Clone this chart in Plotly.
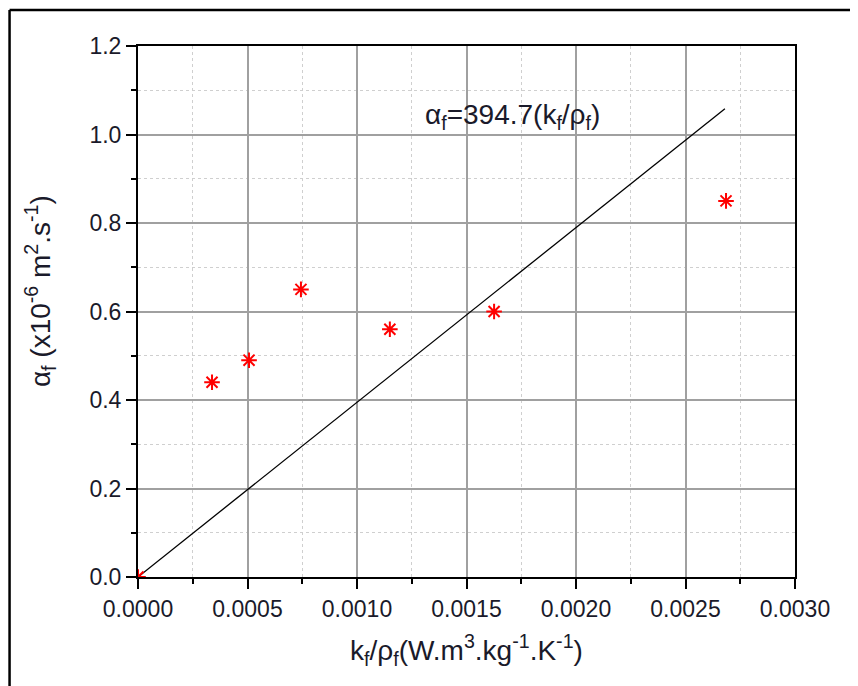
import plotly.graph_objects as go

# data
x_vals = [0.0, 0.000338, 0.000507, 0.000744, 0.00115, 0.001626, 0.002685]
y_vals = [0.0, 0.44, 0.49, 0.65, 0.56, 0.60, 0.85]
fit_x = [0.0, 0.00268]
fit_y = [0.0, 1.058]
x_ticks = [0.0, 0.0005, 0.0010, 0.0015, 0.0020, 0.0025, 0.0030]
x_tick_labels = ["0.0000", "0.0005", "0.0010", "0.0015", "0.0020", "0.0025", "0.0030"]
y_ticks = [0.0, 0.2, 0.4, 0.6, 0.8, 1.0, 1.2]
y_tick_labels = ["0.0", "0.2", "0.4", "0.6", "0.8", "1.0", "1.2"]
eq_text = "α<sub>f</sub>=394.7(k<sub>f</sub>/ρ<sub>f</sub>)"
eq_pos = (0.00171, 1.04)

FONT = "Liberation Sans, Arial, sans-serif"
TXT = "#1a1a2a"

fig = go.Figure()
fig.add_trace(go.Scatter(x=fit_x, y=fit_y, mode="lines",
                         line=dict(color="black", width=1.3), showlegend=False))
fig.add_trace(go.Scatter(x=x_vals, y=y_vals, mode="markers",
                         marker=dict(symbol="asterisk-open", size=13, color="red",
                                     line=dict(color="red", width=2)),
                         showlegend=False))

axis_common = dict(
    showline=True, linecolor="black", linewidth=2, mirror=True,
    ticks="outside", ticklen=10, tickwidth=1.5, tickcolor="black",
    showgrid=True, gridcolor="#a0a0a0", gridwidth=1.5,
    zeroline=False,
    tickfont=dict(family=FONT, size=23, color=TXT),
)

fig.update_xaxes(range=[0, 0.003], tickvals=x_ticks, ticktext=x_tick_labels,
                 minor=dict(dtick=0.00025, ticks="outside", ticklen=5, tickcolor="black",
                            showgrid=True, gridcolor="#cfcfcf", griddash="dot", gridwidth=1),
                 **axis_common)
fig.update_yaxes(range=[0, 1.2], tickvals=y_ticks, ticktext=y_tick_labels,
                 minor=dict(dtick=0.1, ticks="outside", ticklen=5, tickcolor="black",
                            showgrid=True, gridcolor="#cfcfcf", griddash="dot", gridwidth=1),
                 **axis_common)

fig.add_annotation(x=eq_pos[0], y=eq_pos[1], text=eq_text, showarrow=False,
                   font=dict(family=FONT, size=28, color=TXT))

# axis titles
fig.add_annotation(xref="paper", yref="paper", x=0.5, y=-0.1375,
                   text="k<sub>f</sub>/ρ<sub>f</sub>(W.m<sup>3</sup>.kg<sup>-1</sup>.K<sup>-1</sup>)",
                   showarrow=False, font=dict(family=FONT, size=28, color=TXT),
                   yanchor="middle")
fig.add_annotation(xref="paper", yref="paper", x=-0.149, y=0.5386,
                   text="α<sub>f</sub> (x10<sup>-6</sup> m<sup>2</sup>.s<sup>-1</sup>)",
                   textangle=-90, showarrow=False,
                   font=dict(family=FONT, size=28, color=TXT),
                   xanchor="center", yanchor="middle")

# outer frame (left and top edges)
fig.add_shape(type="line", xref="paper", yref="paper", x0=-0.1955, x1=-0.1955,
              y0=1.068, y1=-0.22, line=dict(color="black", width=2.5))
fig.add_shape(type="line", xref="paper", yref="paper", x0=-0.1955, x1=1.11,
              y0=1.068, y1=1.068, line=dict(color="black", width=2.5))

fig.update_layout(
    width=850, height=678,
    margin=dict(l=130, r=63, t=38, b=109),
    paper_bgcolor="white", plot_bgcolor="white",
    font=dict(family=FONT, size=23, color=TXT),
)

fig.write_html("out.html")
